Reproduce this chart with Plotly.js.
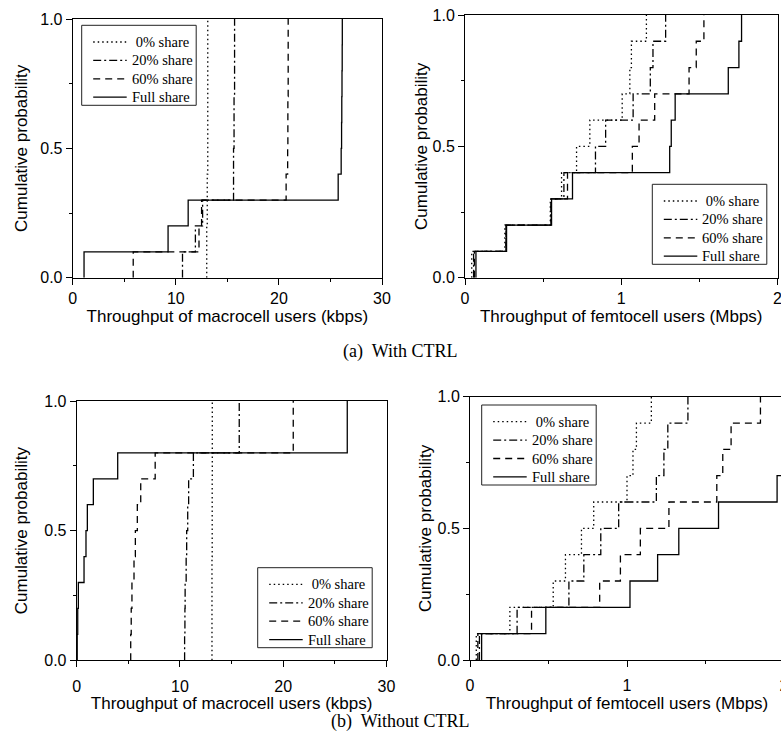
<!DOCTYPE html>
<html><head><meta charset="utf-8">
<script src="https://cdn.plot.ly/plotly-3.0.1.min.js"></script>
<style>html,body{margin:0;padding:0;overflow:hidden;background:#fff;width:781px;height:745px}#chart{width:790px;height:745px}</style>
</head><body><div id="chart"></div><script>
// cumulative probability levels reached at each sample
const probLevels = [0.1, 0.2, 0.3, 0.4, 0.5, 0.6, 0.7, 0.8, 0.9, 1.0];
const seriesNames = ['\u00A00% share', '20% share', '60% share', 'Full share'];

// (a) With CTRL - macrocell throughput (kbps)
const aShare0  = [13.0, 13.0, 13.05, 13.05, 13.1, 13.1, 13.1, 13.1, 13.1, 13.1];
const aShare20 = [10.65, 11.9, 12.6, 15.6, 15.6, 15.65, 15.65, 15.7, 15.7, 15.7];
const aShare60 = [5.87, 12.25, 12.5, 20.7, 20.85, 20.87, 20.87, 20.9, 20.9, 20.9];
const aFull    = [1.1, 9.25, 11.2, 25.75, 26.04, 26.08, 26.1, 26.12, 26.14, 26.15];

// (a) With CTRL - femtocell throughput (Mbps)
const bShare0  = [0.043, 0.255, 0.546, 0.618, 0.714, 0.799, 1.006, 1.055, 1.065, 1.161];
const bShare20 = [0.055, 0.262, 0.55, 0.633, 0.835, 0.90, 1.076, 1.186, 1.203, 1.284];
const bShare60 = [0.06, 0.262, 0.552, 0.656, 1.071, 1.114, 1.214, 1.434, 1.48, 1.529];
const bFull    = [0.07, 0.266, 0.554, 0.688, 1.31, 1.32, 1.345, 1.685, 1.753, 1.77];

// (b) Without CTRL - macrocell throughput (kbps)
const cShare0  = [13.1, 13.1, 13.1, 13.1, 13.12, 13.12, 13.12, 13.13, 13.13, 13.13];
const cShare20 = [10.45, 10.48, 10.5, 10.6, 10.65, 10.75, 10.84, 11.3, 15.74, 15.74];
const cShare60 = [5.23, 5.28, 5.35, 5.55, 5.68, 5.87, 6.2, 7.6, 20.97, 20.97];
const cFull    = [0.05, 0.1, 0.16, 0.71, 0.9, 1.03, 1.61, 3.97, 26.2, 26.2];

// (b) Without CTRL - femtocell throughput (Mbps)
const dShare0  = [0.04, 0.254, 0.53, 0.608, 0.71, 0.788, 1.0, 1.038, 1.06, 1.155];
const dShare20 = [0.06, 0.30, 0.63, 0.725, 0.833, 0.947, 1.187, 1.235, 1.26, 1.388];
const dShare60 = [0.05, 0.392, 0.826, 0.958, 1.085, 1.267, 1.572, 1.61, 1.663, 1.85];
const dFull    = [0.074, 0.483, 1.019, 1.195, 1.33, 1.583, 1.956, 2.05, 2.1, 2.2];

const dashes = ['1.5px,3px', '8px,3px,2px,3px', '7px,5px', 'solid'];

function stepTrace(vals, idx, xa, ya) {
  return {
    type: 'scatter', mode: 'lines',
    x: [vals[0]].concat(vals), y: [0].concat(probLevels),
    xaxis: xa, yaxis: ya, showlegend: false,
    name: seriesNames[idx],
    line: {shape: 'hv', color: '#000', width: 1.3, dash: dashes[idx]},
    hoverinfo: 'skip'
  };
}
const panels = [
  {data: [aShare0, aShare20, aShare60, aFull], xa: 'x', ya: 'y', leg: [81.7, 25.3]},
  {data: [bShare0, bShare20, bShare60, bFull], xa: 'x2', ya: 'y2', leg: [652.3, 184.3]},
  {data: [cShare0, cShare20, cShare60, cFull], xa: 'x3', ya: 'y3', leg: [257.7, 567.7]},
  {data: [dShare0, dShare20, dShare60, dFull], xa: 'x4', ya: 'y4', leg: [481.7, 405]}
];
const traces = [];
panels.forEach(p => p.data.forEach((v, i) => traces.push(stepTrace(v, i, p.xa, p.ya))));

const W = 790, H = 745;
const sans = 'Liberation Sans, Arial, sans-serif';
const serif = 'Liberation Serif, Times New Roman, serif';
const tickFont = {family: sans, size: 16, color: '#000'};
const titleFont = {family: sans, size: 17, color: '#000'};
const legFont = {family: serif, size: 14.5, color: '#000'};

function xdom(a, b) { return [a / W, b / W]; }
function ydom(top, bot) { return [1 - bot / H, 1 - top / H]; }

function xAxis(dom, anchor, range, dtick, mdtick, title, lblGap, stand) {
  return {domain: dom, anchor: anchor, range: range, dtick: dtick, tick0: 0,
    ticks: 'outside', ticklen: 6, tickwidth: 1, tickcolor: '#000', ticklabelstandoff: lblGap,
    minor: {ticks: 'outside', ticklen: 3, dtick: mdtick, tick0: 0, tickcolor: '#000', showgrid: false},
    showline: true, mirror: true, linecolor: '#000', linewidth: 1,
    showgrid: false, zeroline: false, tickfont: tickFont,
    title: {text: title, font: titleFont, standoff: stand}, fixedrange: true};
}
function yAxis(dom, anchor, stand) {
  return {domain: dom, anchor: anchor, range: [0, 1], dtick: 0.5, tick0: 0, tickformat: '.1f',
    ticks: 'outside', ticklen: 6, tickwidth: 1, tickcolor: '#000',
    minor: {ticks: 'outside', ticklen: 3, dtick: 0.25, tick0: 0, tickcolor: '#000', showgrid: false},
    showline: true, mirror: true, linecolor: '#000', linewidth: 1,
    showgrid: false, zeroline: false, tickfont: tickFont,
    title: {text: 'Cumulative probability', font: titleFont, standoff: stand}, fixedrange: true};
}
function xTop(over, anchor, range, dtick, mdtick) {
  return {overlaying: over, anchor: anchor, side: 'top', range: range, dtick: dtick, tick0: 0,
    ticks: 'inside', ticklen: 5, tickcolor: '#000', showticklabels: false,
    minor: {ticks: 'inside', ticklen: 3, dtick: mdtick, tick0: 0, tickcolor: '#000', showgrid: false},
    showline: false, showgrid: false, zeroline: false, fixedrange: true};
}
function yRight(over, anchor) {
  return {overlaying: over, anchor: anchor, side: 'right', range: [0, 1], dtick: 0.5, tick0: 0,
    ticks: 'inside', ticklen: 5, tickcolor: '#000', showticklabels: false,
    minor: {ticks: 'inside', ticklen: 3, dtick: 0.25, tick0: 0, tickcolor: '#000', showgrid: false},
    showline: false, showgrid: false, zeroline: false, fixedrange: true};
}

// legend boxes (drawn as shapes + text so that row spacing matches)
const shapes = [], annotations = [];
const LW = 114.5, LH = 80, ROW0 = 16.7, ROWSTEP = 18.4;
panels.forEach(p => {
  const [l, t] = p.leg;
  shapes.push({type: 'rect', xref: 'paper', yref: 'paper', layer: 'above',
    x0: l / W, x1: (l + LW) / W, y0: 1 - (t + LH) / H, y1: 1 - t / H,
    line: {color: '#222', width: 1}, fillcolor: '#fff'});
  seriesNames.forEach((nm, i) => {
    const ry = 1 - (t + ROW0 + i * ROWSTEP) / H;
    shapes.push({type: 'line', xref: 'paper', yref: 'paper', layer: 'above',
      x0: (l + 11.5) / W, x1: (l + 45) / W, y0: ry, y1: ry,
      line: {color: '#000', width: 1.3, dash: dashes[i]}});
    annotations.push({text: nm, xref: 'paper', yref: 'paper', x: (l + 48) / W, y: ry,
      xanchor: 'left', yanchor: 'middle', showarrow: false, font: legFont});
  });
});
annotations.push(
  {text: '(a)  With CTRL', x: 400 / W, y: 1 - 351 / H, xref: 'paper', yref: 'paper',
   xanchor: 'center', yanchor: 'middle', showarrow: false, font: {family: serif, size: 18, color: '#000'}},
  {text: '(b)  Without CTRL', x: 400 / W, y: 1 - 721 / H, xref: 'paper', yref: 'paper',
   xanchor: 'center', yanchor: 'middle', showarrow: false, font: {family: serif, size: 18, color: '#000'}}
);

const layout = {
  width: W, height: H, margin: {l: 0, r: 0, t: 0, b: 0},
  paper_bgcolor: '#fff', plot_bgcolor: 'rgba(0,0,0,0)', showlegend: false,
  xaxis:  xAxis(xdom(72.7, 382), 'y', [0, 30], 10, 5, 'Throughput of macrocell users (kbps)', 0, 2),
  yaxis:  yAxis(ydom(19, 277.7), 'x', 8),
  xaxis2: xAxis(xdom(465, 777.5), 'y2', [0, 2], 1, 0.5, 'Throughput of femtocell users (Mbps)', 0, 2),
  yaxis2: yAxis(ydom(15, 277.7), 'x2', 0),
  xaxis3: xAxis(xdom(76.7, 386.5), 'y3', [0, 30], 10, 5, 'Throughput of macrocell users (kbps)', 5, 0),
  yaxis3: yAxis(ydom(401, 660.3), 'x3', 12),
  xaxis4: xAxis(xdom(470, 784), 'y4', [0, 2], 1, 0.5, 'Throughput of femtocell users (Mbps)', 5, 0),
  yaxis4: yAxis(ydom(396.7, 660), 'x4', 1),
  xaxis5: xTop('x', 'y', [0, 30], 10, 5),
  yaxis5: yRight('y', 'x'),
  xaxis6: xTop('x2', 'y2', [0, 2], 1, 0.5),
  yaxis6: yRight('y2', 'x2'),
  xaxis7: xTop('x3', 'y3', [0, 30], 10, 5),
  yaxis7: yRight('y3', 'x3'),
  xaxis8: xTop('x4', 'y4', [0, 2], 1, 0.5),
  yaxis8: yRight('y4', 'x4'),
  shapes: shapes,
  annotations: annotations
};
Plotly.newPlot('chart', traces, layout, {staticPlot: true, displayModeBar: false});
</script></body></html>
